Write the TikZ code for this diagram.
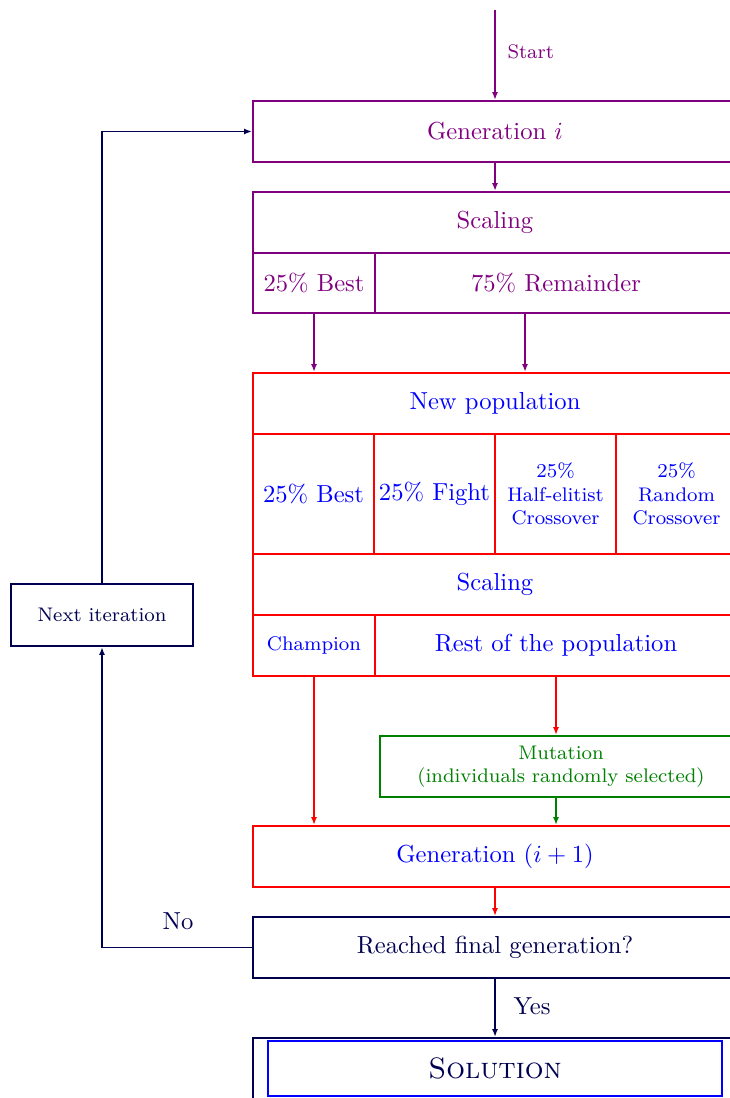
\documentclass[tikz,border=0pt]{standalone}
\usetikzlibrary{arrows.meta}
\definecolor{mpurple}{RGB}{128,0,128}
\definecolor{mgreen}{RGB}{0,128,0}
\definecolor{mnavy}{RGB}{0,0,80}
\begin{document}
\begin{tikzpicture}[x=0.4065pt,y=-0.4065pt,
  box/.style 2 args={draw, line width=0.8pt, rectangle, inner sep=0pt, align=center,
     minimum width=#1*0.4065pt, minimum height=#2*0.4065pt},
  arr/.style={line width=0.8pt, -{Latex[length=3.2pt,width=2.4pt]}},
  ln/.style={line width=0.8pt},
  purplebox/.style={draw=mpurple, text=mpurple},
  redbox/.style={draw=red, text=blue},
  small text/.style={font=\footnotesize},
  ]
\useasboundingbox (0,0) rectangle (730,1098);
\clip (0,0) rectangle (730,1098);

% top section
\coordinate (start) at (495,10);
\node[box={484}{61}, purplebox] (gen) at (495,131.5) {Generation $i$};
\node[box={484}{61}, purplebox] (scal1) at (495,222.5) {Scaling};
\node[box={122}{60}, purplebox] (best1) at (314,283) {25\% Best};
\node[box={362}{60}, purplebox] (rem) at (556,283) {75\% Remainder};

% new population block
\node[box={484}{61}, redbox] (newpop) at (495,403.5) {New population};
\node[box={121}{120}, redbox] (c1) at (313.5,494) {25\% Best};
\node[box={121}{120}, redbox] (c2) at (434.5,494) {25\% Fight};
\node[box={121}{120}, redbox, small text] (c3) at (555.5,494) {25\%\\Half-elitist\\Crossover};
\node[box={121}{120}, redbox, small text] (c4) at (676.5,494) {25\%\\Random\\Crossover};
\node[box={484}{61}, redbox] (scal2) at (495,584.5) {Scaling};
\node[box={122}{61}, redbox, small text] (champ) at (314,645.5) {Champion};
\node[box={362}{61}, redbox] (rest) at (556,645.5) {Rest of the population};

% mutation and next generation
\node[box={362}{61}, draw=mgreen, text=mgreen, small text] (mut) at (561,766.5) {Mutation\\(individuals randomly selected)};
\node[box={484}{61}, redbox] (gen2) at (495,856.5) {Generation $(i+1)$};
\node[box={484}{61}, draw=mnavy, text=mnavy] (reach) at (495,947.5) {Reached final generation?};
\node[box={484}{61}, draw=mnavy] (solout) at (495,1068.5) {};
\node[box={454}{55}, draw=blue, text=mnavy, font=\large\scshape] (sol) at (495,1068.5) {Solution};

% loop
\node[box={182}{62}, draw=mnavy, text=mnavy, small text] (next) at (102,615) {Next iteration};
\coordinate (remx) at (525,0);
\coordinate (loopx) at (102,0);

% connectors
\draw[arr, mpurple] (start) -- (gen.north);
\node[text=mpurple, small text, anchor=west, inner sep=0pt] (startlbl) at (507,52) {Start};
\draw[arr, mpurple] (gen.south) -- (scal1.north);
\draw[arr, mpurple] (best1.south) -- (best1.south |- newpop.north);
\draw[arr, mpurple] (rem.south -| remx) -- (remx |- newpop.north);

\draw[arr, red] (champ.south) -- (champ.south |- gen2.north);
\draw[arr, red] (rest.south) -- (rest.south |- mut.north);
\draw[arr, mgreen] (rest.south |- mut.south) -- (rest.south |- gen2.north);
\draw[arr, red] (gen2.south) -- (reach.north);

\draw[arr, mnavy] (reach.south) -- (solout.north);
\node[text=mnavy, anchor=west, inner sep=0pt] (yeslbl) at (513,1006) {Yes};

\draw[arr, mnavy] (reach.west) -- (loopx |- reach.west) -- (next.south);
\node[text=mnavy, inner sep=0pt] (nolbl) at (178,921) {No};
\draw[arr, mnavy] (next.north) -- (loopx |- gen.west) -- (gen.west);
\end{tikzpicture}
\end{document}
